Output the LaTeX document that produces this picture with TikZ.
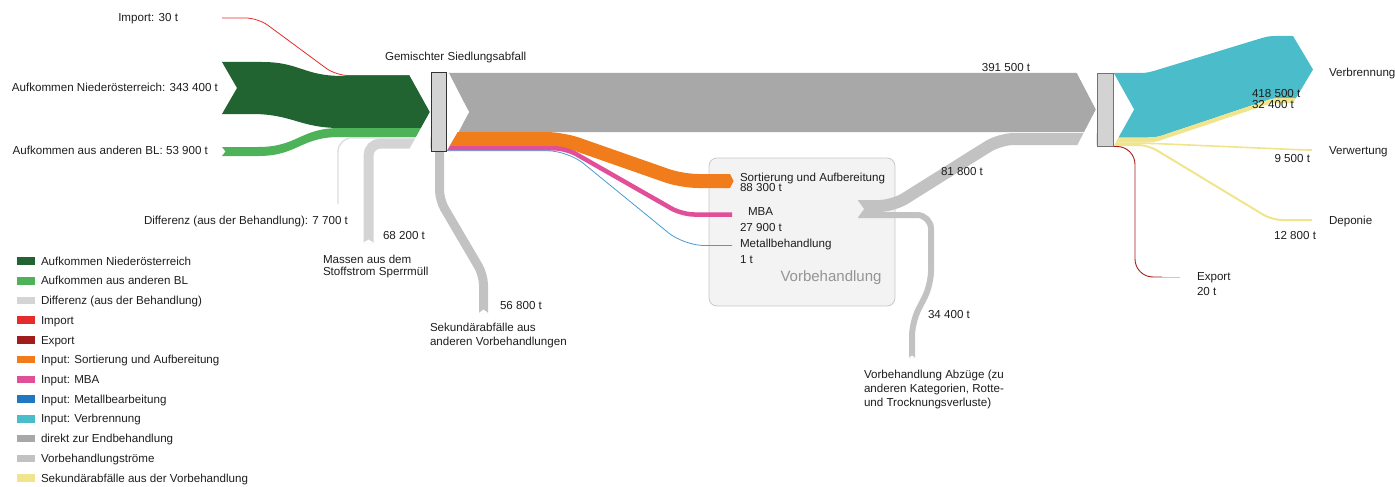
\documentclass[tikz,border=0pt]{standalone}
\usepackage{fontspec}
\setmainfont{Liberation Sans}
\definecolor{txt}{HTML}{1E1E1E}
\definecolor{cNO}{HTML}{216331}
\definecolor{cBL}{HTML}{4EB258}
\definecolor{cDiff}{HTML}{D4D4D4}
\definecolor{cDiffLine}{HTML}{DDDDDD}
\definecolor{cImp}{HTML}{E52B2B}
\definecolor{cExp}{HTML}{A31C1C}
\definecolor{cExpL}{HTML}{E8BCBC}
\definecolor{cSort}{HTML}{F07C1C}
\definecolor{cMBA}{HTML}{E04F98}
\definecolor{cMet}{HTML}{1F78C1}
\definecolor{cMetL}{HTML}{4A9AD4}
\definecolor{cVerb}{HTML}{4BBCC9}
\definecolor{cDirekt}{HTML}{A8A8A8}
\definecolor{cVor}{HTML}{C2C2C2}
\definecolor{cSek}{HTML}{F0E48C}
\definecolor{cNode}{HTML}{D3D3D3}
\definecolor{cBox}{HTML}{F3F3F3}
\definecolor{cBoxLine}{HTML}{C8C8C8}
\begin{document}
\begin{tikzpicture}[x=1pt,y=-1pt,
  every node/.style={inner sep=0pt, outer sep=0pt, text=txt, font=\fontsize{11.6}{12}\selectfont},
  lbl/.style={anchor=base west},
  lblr/.style={anchor=base east},
  lblc/.style={anchor=base},
  band/.style={line cap=butt, line join=miter}]
\useasboundingbox (0,0) rectangle (1395,487);

% Vorbehandlung box
\node[draw=cBoxLine, fill=cBox, line width=0.8pt, rounded corners=8pt, minimum width=186pt, minimum height=148pt] (vb) at (802,232) {};
\node[anchor=base, text=black!42, font=\fontsize{15}{16}\selectfont] (vblabel) at (831,281.5) {Vorbehandlung};

% ---- inputs to node 1
\fill[cNO] (222,62) -- (237,88) -- (222,114) -- (252,114) .. controls (292,114) and (300,128) .. (340,128) -- (421.1,128) -- (430,112) -- (410,76) -- (343,76) .. controls (303,76) and (300,62) .. (262,62) -- cycle;
\fill[cBL] (222,147) -- (225.5,151.5) -- (222,156) -- (258,156) .. controls (298,156) and (300,137) .. (340,137) -- (416.1,137) -- (421.1,128) -- (340,128) .. controls (300,128) and (298,147) .. (258,147) -- cycle;
\draw[cImp, line width=0.8pt, rounded corners=12pt] (222,18) -- (258,18) -- (336,75.5) -- (412,75.5);
\draw[cDiffLine, line width=1.4pt, rounded corners=14pt] (338,204) -- (338,137.8) -- (431,137.8);
\draw[cDiff, band, line width=10pt, rounded corners=12pt] (368.5,243) -- (368.5,143.5) -- (431,143.5);
\fill[white] (362.5,243.3) -- (368.5,239.5) -- (374.5,243.3) -- cycle;

% ---- Sekundärabfälle aus anderen Vorbehandlungen
\draw[cVor, band, line width=9pt, rounded corners=10pt] (439.5,150) -- (439.5,200) -- (483.5,275) -- (483.5,313);
\fill[white] (478.5,313.3) -- (483.5,309.5) -- (488.5,313.3) -- cycle;

% ---- outputs of node 1
\fill[cDirekt] (449,73) -- (1077,73) -- (1096,109.5) -- (1084.3,132) -- (458.7,132) -- (469,112) -- cycle;
\draw[cSort, band, line width=14pt, rounded corners=16pt] (446,139) -- (562,139) -- (682,181) -- (727,181);
\fill[cSort] (726,174) -- (730,174) -- (733.5,181) -- (730,188) -- (726,188) -- cycle;
\draw[cMBA, band, line width=4.5pt, rounded corners=12pt] (446,148.3) -- (566,148.3) -- (682,214.5) -- (732,214.5);
\draw[cMetL, line width=0.8pt, rounded corners=20pt] (446,150.8) -- (568,150.8) -- (684,245.5) -- (732,245.5);

% ---- Vorbehandlung outputs
\draw[cVor, band, line width=12pt, rounded corners=14pt] (858,206) -- (893,206) -- (1000,139) -- (1097,139);
\draw[cVor, band, line width=6pt, rounded corners=14pt] (858,215) -- (931,215) -- (931,285) -- (912,322) -- (912,358);
\fill[cBox] (857,199.5) -- (864,209) -- (857,218.5) -- cycle;
\fill[white] (908.5,358.3) -- (912,355.5) -- (915.5,358.3) -- cycle;

% ---- outputs of node 2
\fill[cVerb] (1114,73) -- (1140,73) .. controls (1147,73) and (1150,72) .. (1156,70.3) -- (1262,38) .. controls (1267,36.5) and (1270,36) .. (1276,36) -- (1293,36) -- (1313,69.5) -- (1296,98) -- (1282,98) .. controls (1276,98) and (1273,98.5) .. (1268,100) -- (1162,135.5) .. controls (1157,137) and (1154,137.5) .. (1148,137.5) -- (1114,137.5) -- cycle;
\fill[cSek] (1114,137.5) -- (1148,137.5) .. controls (1154,137.5) and (1157,137) .. (1162,135.5) -- (1268,100) .. controls (1273,98.5) and (1276,98) .. (1282,98) -- (1296,98) -- (1293,103) -- (1280,103) .. controls (1274,103) and (1271,103.5) .. (1266,105) -- (1160,140.5) .. controls (1155,142) and (1152,142.5) .. (1146,142.5) -- (1114,142.5) -- cycle;
\draw[cSek, line width=1.6pt, rounded corners=6pt] (1114,143.4) -- (1152,143.4) -- (1305,150) -- (1312,150);
\draw[cSek, line width=2pt, rounded corners=10pt] (1114,145) -- (1148,145) -- (1272,220) -- (1312,220);
\draw[cExp, line width=0.9pt, rounded corners=18pt] (1113,146.5) -- (1135,146.5) -- (1135,277) -- (1162,277);
\draw[cExpL, line width=0.9pt] (1161.5,277) -- (1180,277);

% ---- chevron cuts
\fill[white] (406.7,70) -- (430,112) -- (406.7,154) -- (430.4,154) -- (430.4,70) -- cycle;
\fill[white] (446.6,73) -- (469,112) -- (446.6,151) -- cycle;
\fill[white] (1075.4,70) -- (1096,109.5) -- (1075.4,149) -- (1096.5,149) -- (1096.5,70) -- cycle;
\fill[white] (1113.6,73) -- (1134,109.5) -- (1113.6,146) -- cycle;

% ---- nodes
\node[draw=black!80, fill=cNode, line width=1pt, minimum width=15pt, minimum height=78pt] (n1) at (438.5,112) {};
\node[draw=black!55, fill=cNode, line width=0.9pt, minimum width=16pt, minimum height=73pt] (n2) at (1105,109.5) {};

% ---- labels
\node[lblr] (tImp) at (178,22) {Import: 30 t};
\node[lblr] (tNO) at (218,92) {Aufkommen Niederösterreich: 343 400 t};
\node[lblr] (tBL) at (208,154.5) {Aufkommen aus anderen BL: 53 900 t};
\node[lblr] (tDiff) at (348,224) {Differenz (aus der Behandlung): 7 700 t};
\node[lbl] (tGem) at (385,61) {Gemischter Siedlungsabfall};
\node[lblc] (t391) at (1006,71) {391 500 t};
\node[lbl] (t682) at (383,239) {68 200 t};
\node[lbl] (tSp1) at (323,263) {Massen aus dem};
\node[lbl] (tSp2) at (323,275.5) {Stoffstrom Sperrmüll};
\node[lbl] (t568) at (500,309) {56 800 t};
\node[lbl] (tSek1) at (430,331) {Sekundärabfälle aus};
\node[lbl] (tSek2) at (430,345.5) {anderen Vorbehandlungen};
\node[lbl] (tSort) at (740,181) {Sortierung und Aufbereitung};
\node[lbl] (tSortv) at (740,191.5) {88 300 t};
\node[lbl] (tMBA) at (748,215.5) {MBA};
\node[lbl] (tMBAv) at (740,231.5) {27 900 t};
\node[lbl] (tMet) at (740,247) {Metallbehandlung};
\node[lbl] (tMetv) at (740,263) {1 t};
\node[lblc] (t818) at (962,175) {81 800 t};
\node[lbl] (t344) at (928,318) {34 400 t};
\node[lbl] (tAb1) at (864,378.5) {Vorbehandlung Abzüge (zu};
\node[lbl] (tAb2) at (864,392.5) {anderen Kategorien, Rotte-};
\node[lbl] (tAb3) at (864,406) {und Trocknungsverluste)};
\node[lbl] (tVerb) at (1329,76.5) {Verbrennung};
\node[lbl] (tVerbv) at (1252,97) {418 500 t};
\node[lbl] (tVerbs) at (1252,108.5) {32 400 t};
\node[lbl] (tVerw) at (1329,154) {Verwertung};
\node[lblr] (tVerwv) at (1310,162) {9 500 t};
\node[lbl] (tDep) at (1329,224) {Deponie};
\node[lblr] (tDepv) at (1316,239.5) {12 800 t};
\node[lbl] (tExp) at (1197,280) {Export};
\node[lbl] (tExpv) at (1197,295) {20 t};

% ---- legend
\foreach \c/\t [count=\i from 0] in {cNO/Aufkommen Niederösterreich, cBL/Aufkommen aus anderen BL, cDiff/Differenz (aus der Behandlung), cImp/Import, cExp/Export, cSort/Input: Sortierung und Aufbereitung, cMBA/Input: MBA, cMet/Input: Metallbearbeitung, cVerb/Input: Verbrennung, cDirekt/direkt zur Endbehandlung, cVor/Vorbehandlungströme, cSek/Sekundärabfälle aus der Vorbehandlung}{
  \pgfmathsetmacro\yy{261+19.73*\i}
  \fill[\c] (17,\yy-3.8) rectangle (35,\yy+3.8);
  \node[lbl] (leg\i) at (41,\yy+4.1) {\t};
}
\end{tikzpicture}
\end{document}
